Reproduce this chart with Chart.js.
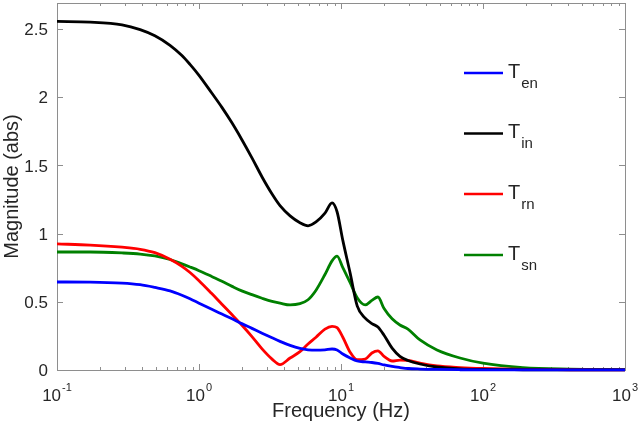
<!DOCTYPE html>
<html>
<head>
<meta charset="utf-8">
<script src="https://cdn.jsdelivr.net/npm/chart.js@4/dist/chart.umd.min.js"></script>
<style>
  html, body { margin: 0; padding: 0; background: #fff; }
  #wrap { width: 640px; height: 431px; }
</style>
</head>
<body>
<div id="wrap"><canvas id="c" width="640" height="431"></canvas></div>
<script>
// ---- data ----
const freqHz = [0.1, 0.171, 0.287, 0.385, 0.489, 0.625, 0.758, 0.864, 1.0, 1.23, 1.45, 1.71, 2.0, 2.36, 2.78, 3.27, 3.72, 4.38, 5.14, 5.86, 6.67, 7.71, 8.65, 9.38, 10.3, 11.6, 13.0, 14.8, 16.5, 18.2, 20.1, 22.9, 26.0, 29.6, 36.0, 47.4, 68.9, 100, 191, 410, 1000];

const Ten = [0.645, 0.644, 0.637, 0.625, 0.605, 0.58, 0.548, 0.522, 0.49, 0.445, 0.41, 0.375, 0.34, 0.305, 0.27, 0.236, 0.21, 0.18, 0.158, 0.148, 0.145, 0.148, 0.154, 0.147, 0.117, 0.088, 0.066, 0.059, 0.055, 0.048, 0.037, 0.026, 0.018, 0.011, 0.007, 0.004, 0.002, 0.001, 0.0005, 0.0003, 0.0002];

const Tin = [2.555, 2.55, 2.53, 2.495, 2.45, 2.38, 2.305, 2.24, 2.16, 2.03, 1.925, 1.81, 1.69, 1.555, 1.415, 1.29, 1.205, 1.13, 1.08, 1.057, 1.085, 1.15, 1.225, 1.16, 0.95, 0.71, 0.47, 0.38, 0.34, 0.315, 0.255, 0.16, 0.10, 0.07, 0.044, 0.022, 0.008, 0.004, 0.002, 0.001, 0.0005];

const Trn = [0.924, 0.916, 0.90, 0.885, 0.86, 0.812, 0.76, 0.715, 0.655, 0.56, 0.482, 0.405, 0.33, 0.245, 0.155, 0.08, 0.04, 0.088, 0.134, 0.19, 0.24, 0.30, 0.32, 0.31, 0.24, 0.13, 0.075, 0.08, 0.125, 0.14, 0.10, 0.066, 0.073, 0.07, 0.05, 0.03, 0.018, 0.011, 0.004, 0.002, 0.001];

const Tsn = [0.865, 0.865, 0.858, 0.85, 0.836, 0.81, 0.778, 0.755, 0.728, 0.685, 0.65, 0.613, 0.58, 0.552, 0.526, 0.503, 0.49, 0.477, 0.486, 0.515, 0.585, 0.70, 0.80, 0.835, 0.75, 0.64, 0.53, 0.477, 0.51, 0.535, 0.45, 0.375, 0.33, 0.30, 0.22, 0.147, 0.088, 0.05, 0.018, 0.007, 0.003];

const seriesNames = ['en', 'in', 'rn', 'sn'];
const seriesColors = ['#0000ff', '#000000', '#ff0000', '#008000'];
const seriesValues = [Ten, Tin, Trn, Tsn];

const xMajorTicks = [0.1, 1, 10, 100, 1000];
const xMajorExp = ['-1', '0', '1', '2', '3'];
const yTicks = [0, 0.5, 1, 1.5, 2, 2.5];
const yTickLabels = ['0', '0.5', '1', '1.5', '2', '2.5'];
const xTitle = 'Frequency (Hz)';
const yTitle = 'Magnitude (abs)';

// ---- chart ----
const FONT = '"Liberation Sans", Arial, Helvetica, sans-serif';
const AXIS = '#8e8e8e';
const TXT = '#262626';

const axesPlugin = {
  id: 'matlabAxes',
  beforeDatasetsDraw(chart) {
    const ctx = chart.ctx, a = chart.chartArea;
    const xs = chart.scales.x, ys = chart.scales.y;
    ctx.save();
    ctx.strokeStyle = AXIS;
    ctx.lineWidth = 1;
    ctx.strokeRect(Math.round(a.left) + 0.5, Math.round(a.top) + 0.5,
                   Math.round(a.right - a.left), Math.round(a.bottom - a.top));
    ctx.beginPath();
    for (let d = 0; d < xMajorTicks.length; d++) {
      const base = xMajorTicks[d];
      const px = Math.round(xs.getPixelForValue(base)) + 0.5;
      ctx.moveTo(px, a.bottom); ctx.lineTo(px, a.bottom - 6);
      ctx.moveTo(px, a.top); ctx.lineTo(px, a.top + 6);
      if (d < xMajorTicks.length - 1) {
        for (let m = 2; m <= 9; m++) {
          const p = Math.round(xs.getPixelForValue(base * m)) + 0.5;
          ctx.moveTo(p, a.bottom); ctx.lineTo(p, a.bottom - 3);
          ctx.moveTo(p, a.top); ctx.lineTo(p, a.top + 3);
        }
      }
    }
    for (const v of yTicks) {
      const py = Math.round(ys.getPixelForValue(v)) + 0.5;
      ctx.moveTo(a.left, py); ctx.lineTo(a.left + 6, py);
      ctx.moveTo(a.right, py); ctx.lineTo(a.right - 6, py);
    }
    ctx.stroke();

    ctx.fillStyle = TXT;
    for (let i = 0; i < xMajorTicks.length; i++) {
      const px = xs.getPixelForValue(xMajorTicks[i]);
      ctx.font = '17px ' + FONT;
      const w1 = ctx.measureText('10').width;
      ctx.font = '11px ' + FONT;
      const w2 = ctx.measureText(xMajorExp[i]).width;
      const start = px - (w1 + 1 + w2) / 2;
      ctx.textAlign = 'left';
      ctx.textBaseline = 'alphabetic';
      ctx.font = '17px ' + FONT;
      ctx.fillText('10', start, 401);
      ctx.font = '11px ' + FONT;
      ctx.fillText(xMajorExp[i], start + w1 + 1, 391);
    }
    ctx.font = '17px ' + FONT;
    ctx.textAlign = 'right';
    ctx.textBaseline = 'middle';
    for (let i = 0; i < yTicks.length; i++) {
      const py = ys.getPixelForValue(yTicks[i]);
      ctx.fillText(yTickLabels[i], a.left - 9, py + 1.5);
    }
    ctx.font = '20px ' + FONT;
    ctx.textAlign = 'center';
    ctx.textBaseline = 'alphabetic';
    ctx.fillText(xTitle, (a.left + a.right) / 2, 417);
    ctx.save();
    ctx.translate(18, (a.top + a.bottom) / 2);
    ctx.rotate(-Math.PI / 2);
    ctx.fillText(yTitle, 0, 0);
    ctx.restore();
    ctx.restore();
  },
  afterDatasetsDraw(chart) {
    const ctx = chart.ctx;
    const rows = [73, 133.5, 194, 255];
    ctx.save();
    for (let i = 0; i < seriesNames.length; i++) {
      const y = rows[i];
      ctx.strokeStyle = seriesColors[i];
      ctx.lineWidth = 2.5;
      ctx.beginPath();
      ctx.moveTo(464, y); ctx.lineTo(503, y);
      ctx.stroke();
      ctx.fillStyle = TXT;
      ctx.textAlign = 'left';
      ctx.textBaseline = 'alphabetic';
      ctx.font = '20px ' + FONT;
      ctx.fillText('T', 508, y + 4.5);
      const wT = ctx.measureText('T').width;
      ctx.font = '15px ' + FONT;
      ctx.fillText(seriesNames[i], 508 + wT + 1, y + 14.5);
    }
    ctx.restore();
  }
};

new Chart(document.getElementById('c'), {
  type: 'line',
  data: {
    datasets: seriesValues.map((vals, i) => ({
      label: 'T' + seriesNames[i],
      data: freqHz.map((f, k) => ({ x: f, y: vals[k] })),
      borderColor: seriesColors[i],
      backgroundColor: seriesColors[i],
      borderWidth: 2.8,
      pointRadius: 0,
      cubicInterpolationMode: 'monotone',
      fill: false,
      clip: 3
    }))
  },
  options: {
    responsive: false,
    animation: false,
    devicePixelRatio: 1,
    layout: { padding: { left: 57, right: 15, top: 3, bottom: 61 } },
    plugins: { legend: { display: false }, tooltip: { enabled: false } },
    scales: {
      x: { type: 'logarithmic', min: 0.1, max: 1000, display: false },
      y: { type: 'linear', min: 0, max: 2.69, display: false }
    }
  },
  plugins: [axesPlugin]
});
</script>
</body>
</html>
